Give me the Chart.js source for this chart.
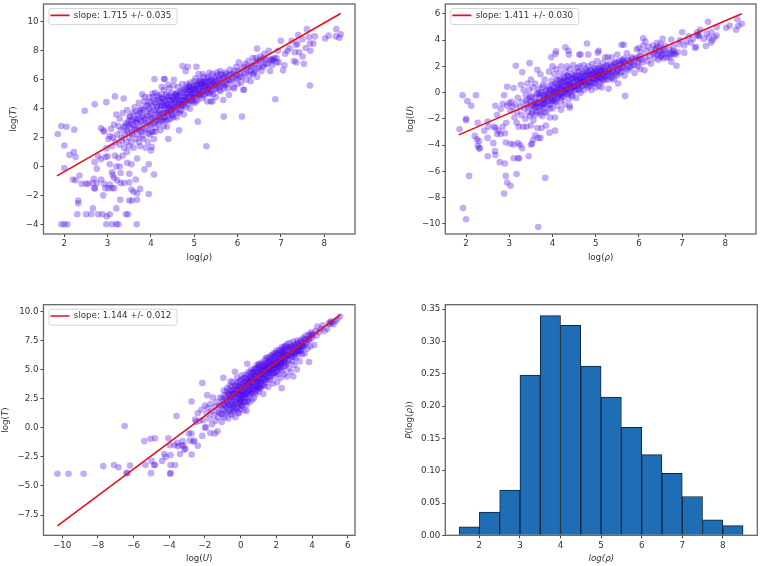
<!DOCTYPE html>
<html>
<head>
<meta charset="utf-8">
<title>log rho, T and U</title>
<script src="https://cdn.jsdelivr.net/npm/chart.js@4"></script>
<style>
html, body { margin: 0; padding: 0; background: #fff; }
#wrap { position: relative; width: 760px; height: 566px; overflow: hidden; }
canvas { position: absolute; filter: blur(0.4px); }
</style>
</head>
<body>
<div id="wrap">
<canvas id="c1" width="380" height="283" style="left:0;top:0"></canvas>
<canvas id="c2" width="380" height="283" style="left:380px;top:0"></canvas>
<canvas id="c3" width="380" height="283" style="left:0;top:283px"></canvas>
<canvas id="c4" width="380" height="283" style="left:380px;top:283px"></canvas>
</div>
<script>
'use strict';
// points, [x, y]
const rhoT = [
[1.93,-4],[2,-4],[2.07,-4],[2.97,-4],[3.1,-4],[3.2,-4],[3.25,-4],[3.67,-4],
[2.3,-3.3],[2.5,-3.3],[2.62,-3.3],[2.78,-3.3],[2.88,-3.3],[2.98,-3.45],[3.05,-3.3],[3.42,-3.3],[3.47,-3.3],
[2.66,-2.9],[3.2,-2.9],[2.32,-2.35],[2.32,-2.55],[3.29,-2.3],[3.5,-2.35],[3.56,-2.35],[3.68,-2.3],
[2.9,-2],[3.95,-1.9],[3.6,-1.75],[3.68,-1.85],[3.75,-1.55],[2.7,-1.5],[2.7,-1.52],[2.95,-1.5],[3.02,-1.5],[3.1,-1.5],[3.15,-1.5],[3.55,-1.6],
[2.4,-1.2],[2.5,-1.2],[2.55,-1.2],[2.65,-1.15],[2.75,-1.15],[2.92,-1.2],[3.05,-1.25],[3.3,-1.15],[3.38,-1.15],[3.5,-1.1],
[2.2,-0.9],[2.26,-0.95],[2.68,-0.85],[2.85,-0.9],[3.15,-0.8],[3.22,-0.95],[3.65,-0.9],[2.35,-0.62],[3.1,-0.4],[3.12,-0.6],[3.3,-0.45],[3.5,-0.5],[4.07,-0.55],
[2,-0.1],[2.75,-0.15],[3.2,0],[3.28,0],[3.05,0.15],[3.85,-0.2],[3.95,0.15],[3.45,0.25],[3.55,0.15],
[2.12,0.8],[2.22,1],[2.26,0.65],[2.7,0.3],[2.78,0.7],[2.85,0.5],[2.95,0.65],[3,0.7],[3.17,0.75],[3.25,0.6],[3.35,0.75],[3.45,1],[3.68,0.55],
[2,1.45],[2.97,1.25],[1.85,2.25],[1.93,2.8],[2.05,2.75],[2.23,2.55],[2.85,2.65],[2.9,2.5],[2.92,2.4],[2.47,3.85],[2.7,4.3],[2.97,4.45],[3.17,4.85],[3.37,4.7],
[3.02,1.9],[3.05,2.1],[3.08,2.6],[3.1,1.4],[3.12,2],[3.15,2.9],[3.18,1.7],[3.2,3.6],[3.22,2.2],[3.25,2.8],[3.27,1.5],[3.28,3.3],[3.3,2.5],[3.32,2],[3.33,1.8],[3.35,3.7],[3.37,2.7],[3.38,1.3],[3.4,2.2],[3.42,3],[3.43,1.7],[3.45,3.9],[3.46,2.4],[3.48,2.9],[3.5,1.4],[3.5,3.4],[3.5,2],
[3.52,2.7],[3.54,3.2],[3.55,1.7],[3.56,2.3],[3.58,3.7],[3.6,2.9],[3.6,1.3],[3.62,4.1],[3.63,2.5],[3.65,3.3],[3.66,1.9],[3.68,3],[3.7,3.6],[3.7,2.2],[3.72,4.4],[3.74,2.7],[3.75,1.4],[3.76,3.2],[3.78,4],[3.78,2.4],[3.8,3.5],[3.8,5],[3.82,1.9],[3.83,2.9],[3.85,4.5],[3.86,3.3],[3.88,1.3],[3.9,3.8],[3.9,2.6],[3.92,4.2],[3.93,1.7],[3.94,3.1],[3.96,4.8],[3.97,2.2],[3.98,3.6],[4,1.1],[4,2.9],[4,4.4],[4.02,1.35],[4.03,3.3],[4.04,5.05],[4.05,2.4],[4.06,3.9],[4.07,1.9],[4.08,4.6],[4.1,3.1],[4.1,5.1],[4.12,2.7],[4.13,3.6],[4.14,4.2],[4.15,4.9],
[4.17,2.9],[4.18,3.4],[4.2,4.5],[4.2,3.9],[4.22,2.5],[4.23,5],[4.25,3.2],[4.26,4.2],[4.27,3.7],[4.28,4.7],[4.3,2.8],[4.3,5.3],[4.32,4],[4.33,3.4],[4.34,4.5],[4.35,5],[4.36,3.8],[4.37,2.75],[4.38,4.3],[4.4,1.9],[4.4,3.6],[4.4,4.8],[4.42,5.4],[4.43,4.1],[4.45,3.3],[4.46,4.6],[4.47,3.9],[4.48,5.1],[4.5,4.3],[4.5,3.5],[4.52,5.6],[4.53,4.7],[4.55,3.9],[4.56,4.4],[4.58,5],[4.6,4.2],[4.6,3.4],[4.62,4.8],[4.63,5.5],[4.65,2.5],[4.65,4.4],[4.67,3.8],[4.68,5.2],[4.7,4.6],[4.72,5.7],[4.73,4.2],[4.75,4.9],[4.76,3.6],[4.78,5.3],[4.8,4.5],[4.82,5],[4.83,5.7],[4.85,4.3],[4.87,5.5],[4.88,4.8],[4.9,5.2],[4.9,4],[4.92,5.8],[4.94,4.6],[4.95,5.4],[4.97,5],[5,4.4],[5,5.6],[5.02,4.8],[5.03,6.1],[5.05,5.3],[5.07,4.6],[5.08,3.1],[5.1,5.7],[5.1,5],[5.12,4.9],[5.14,6],[5.15,5.4],[5.17,5.9],[5.18,4.7],[5.2,5.2],[5.22,6.2],[5.23,5.6],[5.25,5],[5.28,1.4],[5.28,5.8],[5.3,4.5],[5.3,6.1],[5.32,5.4],[5.35,5.9],[5.37,5],[5.38,4.5],[5.4,5.6],[5.42,6.4],[5.45,5.3],[5.47,6],[5.5,4.8],[5.5,5.7],[5.52,6.5],[5.55,5.5],[5.57,6.1],[5.6,5.2],[5.6,6.6],[5.63,5.8],[5.65,6.3],[5.67,4.6],[5.68,3.45],[5.7,5.6],[5.72,6.5],[5.75,6],[5.78,5.4],[5.8,6.3],[5.82,6.7],[5.85,5.9],[5.9,6.4],[5.92,5.4],[5.95,6.1],[5.97,6.9],[6,5.7],[6,6.6],[6.03,7.2],[6.05,6.2],[6.08,5.8],[6.1,3.45],[6.1,6.8],[6.13,5.3],[6.15,6.4],[6.18,7.1],[6.2,6],[6.22,6.7],[6.25,7.3],[6.28,6.3],[6.3,5.9],[6.32,6.9],[6.35,7.5],[6.38,6.5],[6.4,7.1],[6.42,7.5],[6.45,6.2],[6.45,8.15],[6.47,6.8],[6.5,7.3],[6.52,7.6],[6.55,6.6],[6.58,7],[6.6,7.5],[6.62,7.8],[6.65,7.1],[6.72,8],[6.75,6.6],[6.78,7.4],[6.8,7],[6.83,7.4],[6.87,4.65],[6.9,7.5],[6.93,8],[6.95,7.2],[7,8.7],[7.05,6.65],[7.08,7],[7.1,7.8],[7.15,8],[7.2,8.2],[7.25,8.7],[7.3,7.3],[7.32,7.9],[7.35,7.2],[7.35,8.4],[7.38,8.5],[7.4,9.1],[7.42,7.9],[7.5,8.8],[7.5,7.6],[7.53,7.1],[7.57,8.2],[7.6,9.5],[7.65,8.95],[7.67,8.5],[7.67,5.6],[7.68,8],[7.75,8.5],[7.78,9],[8.02,8.85],[8.1,9.05],[8.27,9],[8.28,9.5],[8.35,8.9],[8.38,9.15],
[4.85,6.9],[5.05,6.9],[4.73,6.95],[4.8,6.6],[5.1,6.4],[5.2,6.4],[4.08,6.05],[4.3,6.05],[4.32,6.05],[4.53,6],[4.4,5.65],[4.25,5.5],[5.35,6.5],[5.42,4.5],[5.8,4.95],[5.9,5.5],[6.15,5.3],[6.35,6.4]
];
// the crowded middle of the same panel
const rhoTCore = [
[3.4,2.8],[3.45,2.5],[3.48,3.1],[3.52,3.5],[3.55,2.9],[3.57,2.2],[3.6,3.3],[3.62,2.6],[3.64,3.8],[3.66,3.1],[3.68,2.6],[3.7,3.3],[3.72,1.7],[3.74,3.7],[3.76,2.5],[3.78,3.1],[3.8,2.1],[3.82,3.9],[3.84,3.4],[3.86,2.5],[3.88,4.2],[3.9,3],[3.92,3.5],[3.94,2.3],[3.96,4],[3.98,2.8],[4,3.4],[4,3.8],[4.02,2.4],[4.04,4.2],[4.06,3],[4.08,3.4],[4.1,4.4],[4.1,2.4],[4.12,3.8],[4.14,3.2],[4.16,4.6],[4.18,3.7],[4.2,3.1],[4.22,4.2],[4.24,3.6],[4.26,4.7],[4.28,3.2],[4.3,4.2],[4.3,3.7],[4.32,4.6],[4.34,3.2],[4.36,4.9],[4.38,3.7],[4.4,4.3],[4.4,3.2],[4.42,4.6],[4.44,3.8],[4.46,4.2],[4.48,3.6],[4.5,4.8],[4.5,4],[4.52,3.4],[4.54,4.5],[4.56,5],[4.58,3.8],[4.6,4.6],[4.6,5.1],[4.62,4.2],[4.64,3.7],[4.66,4.9],[4.68,4.3],[4.7,5.1],[4.7,3.9],[4.72,4.5],[4.74,5.3],[4.76,4.3],[4.78,4.8],[4.8,5.4],[4.8,4.1],[4.82,4.6],[4.84,5.1],[4.86,4.6],[4.88,5.6],[4.9,4.5],[4.9,5],[4.92,5.3],[4.94,5],[4.96,4.5],[4.98,5.4],[5,5],[5,5.9],[5.02,5.3],[5.04,4.5],[5.06,5.7],[5.08,5],[5.1,5.4],[5.12,5.9],[5.14,5],[5.16,5.6],[5.18,5.2],[5.2,5.8],[5.22,4.9],[5.24,5.4],[5.26,5.8],[5.28,5.1],[5.3,5.6],[5.32,6.2],[5.34,5.1],[5.36,5.6],[5.38,6],[5.4,5.2],[5.42,5.8],[5.44,5],[5.46,5.6],[5.48,6.2],[5.5,5.4],[5.52,5.9],[5.54,6.3],[5.56,5.7],[5.58,5.3],[5.6,6],[5.62,6.4],[5.64,5.6],[5.66,6.1],[5.68,5.4],[5.7,6.2],[5.72,5.8],[5.74,6.4],[5.76,5.7],[5.8,6],[5.84,6.4],[5.88,6],[5.92,6.6],[5.96,6.3],[6,6.1],[6.05,6.5],[6.1,6.2],[6.15,6.9],[6.2,6.5],[6.25,6.9],[6.3,6.6],[6.35,7],[6.4,6.6],[6.45,7.3],[6.5,6.9],[6.55,7.4],[6.6,6.9],[6.65,7.4],[6.7,7.1],[6.75,7.4],[6.8,7.3],[6.85,7.5],[6.9,7.2],
[3.75,3.9],[3.85,4.8],[3.95,4.5],[4.05,4.8],[4.15,4.1],[4.2,4.8],[4.25,4.4],[4.3,3.4],[4.35,4.2],[4.4,4],[4.45,4.9],[4.5,4.6],[4.55,4.1],[4.6,4.9],[4.65,4.6],[4.7,4.2],[4.75,4.6],[4.8,4.8],[4.85,5.3],[4.9,5.5],[4.95,4.8],[5,5.3],[5.05,5.6],[5.1,5.2],[5.15,5.7],[5.2,5.5],[5.25,5.9],[5.3,5.3],[5.35,5.4],[5.4,6],[5.45,5.8]
];
const rhoU = [
[3.67,-10.25],[1.93,-8.8],[2,-9.65],[2.88,-7.7],[3.03,-7.1],[2.95,-6.85],[2.92,-6.35],[2.07,-6.35],[3.17,-6.2],[3.83,-6.5],[2.9,-5.4],[2.78,-5.3],[2.5,-4.85],[2.68,-4.75],[2.67,-4.45],[3.1,-5],[3.2,-5],[3.23,-5],[3.45,-4.85],[2.63,-3.85],[2.5,-3.45],[2.2,-3.3],[2.25,-3.55],[2.3,-3.7],[2.27,-4.05],[2.32,-4.25],[2.3,-4.25],[2.92,-3.8],[3.03,-3.9],[3.1,-3.95],[3.2,-3.85],[3.25,-4],[3.3,-4.25],[3.5,-3.95],[3.53,-3.9],[3.55,-3.6],[3.6,-3.25],[3.67,-3.45],[3.72,-3.45],[1.85,-2.8],[2.27,-2.3],[2.42,-2.9],[2.5,-2.2],[2.52,-2.6],[2.65,-2.6],[2.68,-2.7],[2.75,-2.9],[2.8,-3.15],[2.72,-3.15],[2.85,-2.6],[2.9,-3.1],[2.93,-2.3],[1.92,-0.2],[2.23,-0.2],[2.03,-0.65],[2.12,-1],[2,-2],[2,-2.1],[2.68,-1],[2.72,-1.7],[2.8,-1.25],[2.85,-0.85],[2.88,-0.2],[2.95,0.45],[2.95,-1],[3.15,2.05],[3.3,1.55],[3.47,2.25],[3.65,1.75],[3.97,2.7],[4.07,2.95],[4.08,3.15],[4.3,3.45],[4.37,3.2],[4.38,2.9],[4.8,3.75],[4.65,2.9],[4.62,2.9],[4.83,2.9],[5.05,3.05],[5.07,3.2],[3.85,-2.5],[3.93,-3.05],[4.06,-2.9],[3.75,-2.7],[4.2,-1.3],[4.4,-1],[4.4,-1.15],[5.68,-0.25],[6.87,2.05],
[7,4.6],[7.6,5.4],[7.35,4.6],[7.8,5],[8.28,5.6],[8.38,5.25],[8.3,5.1],[8.25,4.8],[8.1,5.1],[8.02,4.95],[7.8,4.35],[7.7,4],[7.67,3.8],[7.55,3.55],[7.4,4.3],[7.3,3.4],[7.05,3.05],[6.75,4.05],[6.95,4],[6.75,2.35],[6.1,4.15],[6.15,3.9],[5.6,3.65],[5.65,3.65],[6.55,4.1],
[3,-0.8],[3.03,-1.4],[3.05,-0.7],[3.08,-1.1],[3.1,0.35],[3.12,-1.9],[3.15,-0.9],[3.17,-2.3],[3.18,-1.5],[3.2,-0.4],[3.22,-2.6],[3.25,-1.1],[3.27,0.6],[3.28,-1.7],[3.3,-0.7],[3.32,-2.6],[3.33,0.2],[3.35,-1.2],[3.37,-2],[3.38,-0.2],[3.4,-2.6],[3.4,-0.9],[3.42,0.7],[3.43,-1.5],[3.45,-0.5],[3.46,0.2],[3.48,-1.8],[3.5,-1],[3.5,1],[3.5,-2.5],[3.52,-0.3],[3.54,-1.4],[3.55,0.4],[3.56,-2.1],[3.58,-0.7],[3.6,-1.7],[3.6,0.7],[3.62,-1.1],[3.63,-0.1],[3.65,-2.7],[3.66,-0.8],[3.68,0.3],[3.7,-1.4],[3.7,-0.4],[3.72,1.4],[3.74,-0.9],[3.75,0],[3.76,-1.8],[3.78,0.6],[3.78,-0.6],[3.8,-1.2],[3.8,-0.2],[3.82,1],[3.83,-0.8],[3.85,0.2],[3.86,-1.5],[3.88,-0.4],[3.9,0.5],[3.9,-1],[3.92,1.6],[3.93,-0.1],[3.94,-1.9],[3.96,0.2],[3.97,-0.6],[3.98,0.9],[4,-1.2],[4,-0.2],[4,2],[4.02,-0.7],[4.03,0.4],[4.04,1.4],[4.05,-0.3],[4.06,-1.9],[4.07,0.1],[4.08,1.8],[4.1,-0.5],[4.1,0.6],[4.12,-1],[4.13,0.2],[4.14,1],[4.15,-0.2],[4.17,1.5],[4.18,0.4],[4.2,-0.6],[4.2,2],[4.22,0],[4.23,0.8],[4.25,-0.3],[4.26,1.2],[4.27,0.3],[4.28,-0.9],[4.3,1.6],[4.3,0.5],[4.32,-0.1],[4.33,0.9],[4.34,2],[4.35,0.2],[4.36,1.3],[4.37,-0.5],[4.38,0.6],[4.4,1.8],[4.4,0],[4.42,1],[4.43,0.4],[4.45,1.4],[4.46,-0.3],[4.47,0.7],[4.48,2.1],[4.5,1.1],[4.5,0.1],[4.52,1.6],[4.53,0.5],[4.55,-0.4],[4.56,0.9],[4.58,1.9],[4.6,0.3],[4.6,1.3],[4.62,0.7],[4.63,2],[4.65,0],[4.65,1.1],[4.67,0.5],[4.68,1.6],[4.7,0.9],[4.72,2.1],[4.73,0.2],[4.75,1.3],[4.76,0.6],[4.78,1.8],[4.8,1],[4.82,0.4],[4.83,2],[4.85,1.4],[4.87,0.7],[4.88,1.7],[4.9,1.1],[4.9,0.2],[4.92,2.2],[4.94,1.4],[4.95,0.7],[4.97,1.9],[5,1.1],[5,0.4],[5.02,1.6],[5.03,2.4],[5.05,0.9],[5.07,1.4],[5.08,0.5],[5.1,2],[5.1,1.1],[5.12,1.7],[5.14,0.4],[5.15,1.3],[5.17,2.3],[5.18,0.9],[5.2,1.6],[5.22,2.7],[5.23,1],[5.25,2],[5.28,1.3],[5.28,2.7],[5.3,0.3],[5.3,1.7],[5.32,2.2],[5.35,1.2],[5.37,2.7],[5.38,1.6],[5.4,2],[5.42,1],[5.45,2.3],[5.47,1.4],[5.5,1.8],[5.5,2.9],[5.52,0.7],[5.55,2.1],[5.57,1.5],[5.6,2.4],[5.63,1.9],[5.65,2.6],[5.67,1.3],[5.7,2.2],[5.72,3],[5.75,1.7],[5.78,2.4],[5.8,1.9],[5.82,2.7],[5.85,2.1],[5.9,1.5],[5.92,2.5],[5.95,3.3],[5.97,2],[6,3.4],[6,2.6],[6.03,1.8],[6.05,3.1],[6.08,2.3],[6.1,3.6],[6.13,1.7],[6.15,2.7],[6.18,3.2],[6.2,2.4],[6.22,3.5],[6.25,2.8],[6.28,2.2],[6.3,3.1],[6.32,3.6],[6.35,2.6],[6.38,3.3],[6.4,2.9],[6.42,3.8],[6.45,2.5],[6.47,3.2],[6.5,3.7],[6.52,2.8],[6.55,3.3],[6.58,2.6],[6.6,3.6],[6.62,3],[6.65,2.7],[6.7,3.3],[6.72,2.7],[6.78,2.95],[6.8,3.5],[6.83,3],[6.9,3.1],[6.93,3.7],[7.05,3.6],[7.1,3.9],[7.15,4.3],[7.2,3.8],[7.25,4.1],[7.32,3.5],[7.35,4.4],[7.38,4.35],[7.42,4.8],[7.5,4.1],[7.57,4.5],[7.62,4.2],[7.68,4.6],[7.75,4.2]
];
const rhoUCore = [
[3.4,-0.6],[3.44,-1.1],[3.48,-0.3],[3.52,-1.6],[3.55,-0.9],[3.58,-1.2],[3.6,-0.4],[3.62,-0.8],[3.64,-1.5],[3.66,0],[3.68,-1.1],[3.7,-0.7],[3.72,-1.6],[3.74,-0.2],[3.76,0.4],[3.78,-0.9],[3.8,-0.5],[3.82,-1.5],[3.84,0.1],[3.86,-0.7],[3.88,-0.1],[3.9,-0.6],[3.92,0.3],[3.94,-1.2],[3.96,-0.4],[3.98,0.2],[4,-0.6],[4,0.6],[4.02,-0.2],[4.04,0],[4.06,0.7],[4.08,-0.7],[4.1,0.2],[4.1,1],[4.12,-0.3],[4.14,0.4],[4.16,-0.1],[4.18,1],[4.2,0.3],[4.2,0.7],[4.22,-0.4],[4.24,0.5],[4.26,0.1],[4.28,1.1],[4.3,0],[4.3,0.8],[4.32,0.3],[4.34,1.3],[4.36,-0.1],[4.38,0.9],[4.4,0.3],[4.4,1.2],[4.42,0.6],[4.44,-0.2],[4.46,1.1],[4.48,0.4],[4.5,0.8],[4.52,1.3],[4.54,0.2],[4.56,1],[4.58,0.5],[4.6,1.6],[4.6,0.9],[4.62,0.2],[4.64,1.2],[4.66,0.8],[4.68,1.4],[4.7,0.5],[4.72,1],[4.74,1.6],[4.76,0.9],[4.78,1.3],[4.8,0.6],[4.82,1.6],[4.84,1.1],[4.86,0.5],[4.88,1.3],[4.9,1.7],[4.92,0.8],[4.94,1.1],[4.96,1.5],[4.98,0.7],[5,1.4],[5,1.8],[5.02,1],[5.04,1.3],[5.06,1.9],[5.08,1.2],[5.1,0.8],[5.12,1.5],[5.14,1.9],[5.16,1],[5.18,1.4],[5.2,1.9],[5.22,1.2],[5.24,1.6],[5.26,2.1],[5.28,1.5],[5.3,1],[5.32,1.8],[5.34,1.4],[5.36,2],[5.38,1.1],[5.4,1.6],[5.42,2.2],[5.44,1.5],[5.46,1.9],[5.48,2.3],[5.5,1.3],[5.52,1.7],[5.54,2.4],[5.56,1.9],[5.58,2.2],[5.6,1.6],[5.62,2.5],[5.64,2],[5.66,2.3],[5.7,1.8],[5.74,2.5],[5.78,2],[5.82,2.3],[5.86,2.6],[5.9,2.1],[5.94,2.7],[5.98,2.3],[6.02,2.8],[6.06,2.5],[6.45,2.9],[6.5,3.2],[6.55,2.9],[6.6,3.2],[6.5,2.7],[6.45,3.5],[6.4,3.4],[6.35,3],[6.7,2.9],[6.75,3.1],[6.8,3.2],[6.85,2.9],
[3.5,-0.7],[3.6,-1],[3.7,-0.1],[3.75,-1.1],[3.8,-0.8],[3.85,-0.3],[3.9,-0.2],[3.95,-0.9],[4,0.1],[4.05,-0.6],[4.1,0],[4.15,0.6],[4.2,-0.2],[4.25,0.9],[4.3,0.2],[4.35,0.6],[4.4,0.7],[4.45,0.2],[4.5,0.5],[4.55,1.2],[4.6,0.6],[4.65,0.8],[4.7,1.2],[4.75,0.8],[4.8,1.4],[4.85,0.8],[4.9,1.4],[4.95,1],[5,1.6],[5.05,1.2],[5.1,1.5],[5.15,1.7],[5.2,1.3]
];
const uT = [
[-10.27,-3.95],[-9.65,-3.95],[-8.8,-3.95],[-7.7,-3.3],[-7.1,-3.2],[-6.85,-3.4],[-6.35,-3.9],[-6.4,-3.9],[-6.2,-3.25],[-6.5,0.15],[-5.4,-1.15],[-5.05,-0.95],[-4.8,-0.9],[-5.33,-3.2],[-5.03,-3.9],[-5,-2.85],[-4.8,-3.2],[-4.85,-3.2],[-4.4,-2.85],[-4.2,-2.5],[-4.28,-2.25],[-3.93,-2.35],[-3.93,-3.9],[-3.95,-3.95],[-3.93,-3.2],[-3.68,-3.2],[-3.6,1],[-4.05,-0.9],[-3.97,-1.5],[-3.7,-1.5],[-3.5,-1.6],[-3.25,-1.15],[-3.4,-2.25],[-3.1,-1.8],[-3.15,-1.9],[-2.75,-2.3],[-3.2,-1.55],[-2.9,-0.5],[-2.75,-0.5],[-2.85,-1.1],[-2.65,-1.2],[-2.6,-1.1],[-2.4,-1.55],[-2.75,2.25],[-2.15,3.85],[-1.87,2.8],[-2.55,0.7],[-2.4,1.25],[-2.2,1.55],[-2.15,-0.7],[-2,0],[-1.95,0.05],[-1.7,-0.45],[-1.45,-0.5],[-1.3,-0.3],[-3.55,-1.3],[-3.3,-1.5],
[-2.5,0.5],[-2.3,0.6],[-2.1,0.65],[-2,1.9],[-1.9,1.2],[-1.85,1.7],[-1.75,0.8],[-1.7,2.05],[-1.65,1.4],[-1.6,0.3],[-1.55,2.6],[-1.5,1.1],[-1.45,1.8],[-1.4,0.6],[-1.35,2.2],[-1.3,1.4],[-1.25,0.9],[-1.2,1.9],[-1.15,2.6],[-1.1,1.2],[-1.05,0.5],[-1,2.3],[-1,1.6],[-0.95,3.2],[-0.97,4.3],[-0.9,0.9],[-0.9,2.8],[-0.85,1.9],[-0.8,2.4],[-0.8,1.3],[-0.75,3.4],[-0.7,2],[-0.7,0.8],[-0.65,2.9],[-0.6,1.6],[-0.6,3.6],[-0.56,4],[-0.55,2.4],[-0.5,1.1],[-0.5,3],[-0.45,1.9],[-0.45,3.9],[-0.4,2.6],[-0.4,1.4],[-0.35,3.3],[-0.32,4.8],[-0.3,2.1],[-0.3,0.9],[-0.25,2.9],[-0.25,3.7],[-0.2,1.7],[-0.2,4.3],[-0.15,2.4],[-0.13,1.3],[-0.1,1.25],[-0.1,3.3],[-0.05,2],[-0.05,4],[0,2.8],[0,1.6],[0,3.5],[0.05,4.5],[0.05,2.3],[0.1,3.1],[0.1,1.9],[0.15,3.8],[0.15,2.6],[0.2,1.5],[0.2,4.3],[0.25,3.3],[0.25,2.2],[0.3,2.9],[0.3,4.6],[0.33,1.95],[0.33,1.45],[0.35,3.7],[0.37,5.5],[0.4,2.5],[0.4,4.1],[0.45,3.1],[0.45,4.8],[0.5,2.2],[0.5,3.6],[0.55,4.4],[0.55,2.9],[0.6,5],[0.6,3.3],[0.65,2.4],[0.65,3.9],[0.7,4.7],[0.7,3],[0.75,2.55],[0.75,4.2],[0.8,3.5],[0.8,5.1],[0.85,2.9],[0.85,4.5],[0.9,3.9],[0.9,5.4],[0.95,3.3],[0.95,4.8],[1,4.2],[1,3.1],[1,5.2],[1.05,3.7],[1.05,5.5],[1.1,4.5],[1.1,3.4],[1.15,5],[1.15,4],[1.2,5.6],[1.2,3.6],[1.25,4.5],[1.27,2.9],[1.3,5.3],[1.3,4.1],[1.35,5.8],[1.35,3.6],[1.4,4.8],[1.4,3.9],[1.45,5.5],[1.5,4.4],[1.5,6],[1.55,5.1],[1.55,3.5],[1.6,4.7],[1.6,5.7],[1.65,4.1],[1.7,5.3],[1.7,6.2],[1.75,4.6],[1.75,5.8],[1.8,3.8],[1.8,5],[1.85,6.4],[1.9,4.4],[1.9,5.5],[1.95,6],[2,4.8],[2,6.6],[2.05,3.9],[2.05,5.3],[2.1,5.9],[2.1,4.6],[2.15,6.7],[2.2,5.1],[2.2,6.2],[2.25,4.3],[2.25,5.6],[2.3,3.4],[2.3,6.9],[2.35,4.9],[2.35,6.4],[2.4,5.8],[2.45,4.6],[2.45,7],[2.5,5.3],[2.5,6.6],[2.55,6.1],[2.6,4.4],[2.6,7.2],[2.65,5.6],[2.7,6.7],[2.7,5.1],[2.75,7.3],[2.8,6.2],[2.8,4.8],[2.85,7],[2.9,5.7],[2.95,4.4],[2.95,7.4],[3,6.5],[3,5.4],[3.05,7.1],[3.1,6],[3.15,7.5],[3.15,5],[3.2,6.6],[3.25,7.2],[3.3,5.7],[3.35,7.5],[3.4,6.9],[3.45,6.3],[3.5,7.7],[3.55,7],[3.6,6.4],[3.65,7.9],[3.7,7.3],[3.75,6.8],[3.8,8],[3.83,5.65],[3.85,7.6],[3.9,7],[3.95,8.2],[4,7.7],[4.05,8],[4.13,7.1],[4.2,8.3],[4.25,7.9],[4.3,8.7],[4.4,8.2],[4.5,8.5],[4.6,8.8],[4.7,8.3],[4.85,8.5],[4.95,9],[5,8.9],[5.05,9.15],[5.1,9.05],[5.2,8.9],[5.3,9.15],[5.4,9.3],[5.57,9.55]
];
const uTCore = [
[-1.2,1.3],[-1.1,1.9],[-1.05,2.5],[-1,1.1],[-0.95,2],[-0.9,1.5],[-0.85,2.6],[-0.8,1.8],[-0.78,3.1],[-0.75,2.2],[-0.7,1.4],[-0.7,2.9],[-0.65,2.4],[-0.62,1.9],[-0.6,3.2],[-0.58,1.2],[-0.55,2.8],[-0.5,2.1],[-0.5,3.5],[-0.47,1.6],[-0.45,2.6],[-0.42,3.2],[-0.4,2],[-0.38,1.7],[-0.35,2.9],[-0.32,2.3],[-0.3,3.6],[-0.28,1.5],[-0.25,2.6],[-0.22,3.2],[-0.2,2.1],[-0.18,3.9],[-0.15,2.9],[-0.12,1.8],[-0.1,2.5],[-0.08,3.6],[-0.05,3],[-0.02,2.2],[0,3.2],[0,4.1],[0.03,2.5],[0.05,1.9],[0.08,3.5],[0.1,2.8],[0.12,4.2],[0.15,3.2],[0.18,2.2],[0.2,3.6],[0.22,2.9],[0.25,4],[0.28,2.6],[0.3,3.4],[0.32,4.3],[0.35,3],[0.38,2.3],[0.4,3.6],[0.42,4.5],[0.45,3.9],[0.48,2.8],[0.5,4.2],[0.52,3.3],[0.55,3.8],[0.58,4.7],[0.6,3],[0.62,4.3],[0.65,3.5],[0.68,4.8],[0.7,3.9],[0.72,3.3],[0.75,4.5],[0.78,5],[0.8,4],[0.82,3.1],[0.85,4.8],[0.88,3.6],[0.9,4.3],[0.92,5.1],[0.95,4],[0.98,3.5],[1,4.7],[1.02,5.4],[1.05,4.2],[1.08,3.4],[1.1,5],[1.12,3.9],[1.15,4.6],[1.18,5.3],[1.2,4.2],[1.22,4.9],[1.25,3.7],[1.28,5.5],[1.3,4.6],[1.32,5],[1.35,4.2],[1.38,5.4],[1.4,4.5],[1.42,6],[1.45,5],[1.48,4.1],[1.5,5.3],[1.52,4.7],[1.55,5.7],[1.58,4.3],[1.6,5.2],[1.62,6],[1.65,4.9],[1.68,5.6],[1.7,4.4],[1.72,5.1],[1.75,6.2],[1.78,5.4],[1.8,4.7],[1.82,5.9],[1.85,5.2],[1.88,6.1],[1.9,4.7],[1.92,5.6],[1.95,6.4],[1.98,5.1],[2,5.8],[2.02,6.3],[2.05,4.8],[2.08,5.6],[2.1,6.4],[2.12,5.2],[2.15,6],[2.18,5.5],[2.2,6.6],[2.22,5.7],[2.25,6.3],[2.28,5.1],[2.3,6],[2.32,6.6],[2.35,5.6],[2.38,6.2],[2.4,6.8],[2.42,5.3],[2.45,5.9],[2.48,6.5],[2.5,6],[2.52,7],[2.55,5.5],[2.58,6.4],[2.6,6.9],[2.65,6.2],[2.7,6.2],[2.75,6.8],[2.8,6.6],[2.85,6.1],[2.9,6.9],[2.95,6.3],[3,7.1],[3.05,6.4],[3.1,6.9],[3.15,6.5],[3.2,7.3],[3.25,6.6],[3.3,7],[3.35,6.7],[3.4,7.4],[3.45,7],[3.5,7.3],[3.55,7.6],[3.6,7.2],[3.7,7.6],[3.8,7.5],[3.9,7.9],[4,8],
[-0.6,2.6],[-0.4,3],[-0.2,3.5],[-0.1,2.9],[0,2.4],[0.1,3.7],[0.2,2.8],[0.3,3.9],[0.4,3.2],[0.5,3.9],[0.6,4.2],[0.7,3.5],[0.8,4.5],[0.9,3.5],[1,4],[1.1,4.7],[1.2,5],[1.3,4.4],[1.4,5.1],[1.5,4.9],[1.6,5.5],[1.7,4.9],[1.8,5.5],[1.9,5.1],[2,5.4],[2.1,5.2],[2.2,5.7],[2.3,5.5],[2.4,6.4],[2.5,5.7],[2.6,6.2],[2.7,5.8],[2.8,6.9],[2.9,6.4],[3,6.1],[3.1,6.6],[3.2,7],[3.3,6.4],[3.4,6.6],[3.5,7]
];
const histCenters = [1.75, 2.25, 2.75, 3.25, 3.75, 4.25, 4.75, 5.25, 5.75, 6.25, 6.75, 7.25, 7.75, 8.25];
const histValues = [0.013, 0.036, 0.07, 0.248, 0.34, 0.325, 0.262, 0.214, 0.167, 0.125, 0.096, 0.06, 0.024, 0.015];

const fitRhoT = [[1.83,-0.65],[8.38,10.58]];
const fitRhoU = [[1.83,-3.22],[8.38,6.02]];
const fitUT = [[-10.27,-8.43],[5.6,9.72]];

const rhoTicks = [2, 3, 4, 5, 6, 7, 8];
const tTicks = [-4, -2, 0, 2, 4, 6, 8, 10];
const uTicks = [-10, -8, -6, -4, -2, 0, 2, 4, 6];
const tTicksWide = [-7.5, -5, -2.5, 0, 2.5, 5, 7.5, 10];
const probTicks = [0, 0.05, 0.1, 0.15, 0.2, 0.25, 0.3, 0.35];

const textColor = '#333';
const fontName = '"DejaVu Sans"';
const fontSize = 8.7;

function toPoints(list) {
    return list.map(p => ({ x: p[0], y: p[1] }));
}

function tickText(decimals) {
    return v => v.toFixed(decimals).replace('-', '\u2212');
}

// draws "log(rho)" style labels, some parts italic, so it needs more than a scale title
function drawLabel(ctx, parts, cx, cy, rotated) {
    ctx.save();
    ctx.fillStyle = textColor;
    ctx.textBaseline = 'middle';
    ctx.textAlign = 'left';
    let total = 0;
    parts.forEach(p => {
        ctx.font = (p[1] ? 'italic ' : '') + fontSize + 'px ' + fontName;
        total += ctx.measureText(p[0]).width;
    });
    ctx.translate(cx, cy);
    if (rotated) ctx.rotate(-Math.PI / 2);
    let pos = -total / 2;
    parts.forEach(p => {
        ctx.font = (p[1] ? 'italic ' : '') + fontSize + 'px ' + fontName;
        ctx.fillText(p[0], pos, 0);
        pos += ctx.measureText(p[0]).width;
    });
    ctx.restore();
}

const panelDecor = {
    id: 'panelDecor',
    beforeDraw(chart) {
        const o = chart.options.plugins.panelDecor;
        if (!o.legendBox) return;
        const ctx = chart.ctx, a = chart.chartArea;
        // chartArea legend keeps top at 0 otherwise
        chart.legend.top = a.top;
        chart.legend.bottom = a.bottom;
        ctx.save();
        ctx.fillStyle = 'rgba(255,255,255,0.8)';
        ctx.strokeStyle = '#d6d6d6';
        ctx.lineWidth = 1;
        ctx.beginPath();
        ctx.roundRect(a.left + 5.5, a.top + 4.5, o.legendBox, 16, 2);
        ctx.fill();
        ctx.stroke();
        ctx.restore();
    },
    afterDraw(chart) {
        const o = chart.options.plugins.panelDecor;
        const ctx = chart.ctx, a = chart.chartArea;
        ctx.save();
        ctx.strokeStyle = '#666';
        ctx.lineWidth = 1.3;
        ctx.strokeRect(a.left, a.top, a.right - a.left, a.bottom - a.top);
        ctx.restore();
        drawLabel(ctx, o.xLabel, (a.left + a.right) / 2, o.xLabelY, false);
        drawLabel(ctx, o.yLabel, o.yLabelX, (a.top + a.bottom) / 2, true);
    }
};

function axis(box, tickList, decimals, range) {
    return {
        type: 'linear',
        offset: false,
        min: range[0],
        max: range[1],
        afterBuildTicks: s => { s.ticks = tickList.map(v => ({ value: v })); },
        afterFit: s => {
            if (s.isHorizontal()) s.height = box.axisH; else s.width = box.axisW;
            s.paddingTop = 0;
            s.paddingBottom = 0;
            s.paddingLeft = 0;
            s.paddingRight = 0;
        },
        grid: { offset: false, drawOnChartArea: false, drawTicks: true, tickLength: 3, tickColor: '#444', tickWidth: 1 },
        border: { display: false },
        ticks: {
            color: textColor,
            padding: 2,
            maxRotation: 0,
            autoSkip: false,
            font: { family: fontName, size: fontSize },
            callback: tickText(decimals)
        }
    };
}

function scatterPanel(id, box, pts, fit, slopeText, xCfg, yCfg, xLabel, yLabel) {
    new Chart(document.getElementById(id), {
        type: 'scatter',
        data: {
            datasets: [
                { label: slopeText, data: toPoints(fit), showLine: true, borderColor: '#e4101c', borderWidth: 1.6, pointRadius: 0, pointStyle: 'line' },
                { label: 'points', data: toPoints(pts), backgroundColor: 'rgba(72,0,235,0.33)', borderWidth: 0, pointRadius: 3.3 }
            ]
        },
        plugins: [panelDecor],
        options: {
            responsive: false,
            animation: false,
            layout: { padding: { top: box.top, right: box.right, left: 0, bottom: 0 } },
            scales: { x: axis(box, xCfg.ticks, xCfg.decimals, xCfg.range), y: axis(box, yCfg.ticks, yCfg.decimals, yCfg.range) },
            plugins: {
                tooltip: { enabled: false },
                legend: {
                    position: 'chartArea',
                    align: 'start',
                    labels: {
                        filter: item => item.datasetIndex === 0,
                        usePointStyle: true,
                        pointStyleWidth: 19,
                        padding: 7,
                        color: textColor,
                        font: { family: fontName, size: fontSize }
                    }
                },
                panelDecor: { legendBox: 128, xLabel: xLabel, yLabel: yLabel, xLabelY: box.xLabelY, yLabelX: box.yLabelX }
            }
        }
    });
}

const rhoLabel = [['log(', 0], ['\u03c1', 1], [')', 0]];
const topLeft = { top: 3, right: 25, axisW: 43.5, axisH: 49, xLabelY: 257.5, yLabelX: 13.7 };
const topRight = { top: 3, right: 2.7, axisW: 65.3, axisH: 49, xLabelY: 257.5, yLabelX: 30.7 };
const botLeft = { top: 21.7, right: 25, axisW: 43.5, axisH: 30.7, xLabelY: 276, yLabelX: 6 };
const botRight = { top: 21.7, right: 2.7, axisW: 65.3, axisH: 30.7, xLabelY: 276, yLabelX: 30 };

scatterPanel('c1', topLeft, rhoT.concat(rhoTCore), fitRhoT, 'slope: 1.715 +/- 0.035',
    { ticks: rhoTicks, decimals: 0, range: [1.52, 8.71] },
    { ticks: tTicks, decimals: 0, range: [-4.67, 11.24] },
    rhoLabel, [['log(', 0], ['T', 1], [')', 0]]);

scatterPanel('c2', topRight, rhoU.concat(rhoUCore), fitRhoU, 'slope: 1.411 +/- 0.030',
    { ticks: rhoTicks, decimals: 0, range: [1.52, 8.71] },
    { ticks: uTicks, decimals: 0, range: [-10.78, 6.76] },
    rhoLabel, [['log(', 0], ['U', 1], [')', 0]]);

scatterPanel('c3', botLeft, uT.concat(uTCore), fitUT, 'slope: 1.144 +/- 0.012',
    { ticks: uTicks, decimals: 0, range: [-11.05, 6.41] },
    { ticks: tTicksWide, decimals: 1, range: [-9.24, 10.57] },
    [['log(', 0], ['U', 1], [')', 0]], [['log(', 0], ['T', 1], [')', 0]]);

new Chart(document.getElementById('c4'), {
    type: 'bar',
    data: {
        datasets: [{
            data: histCenters.map((c, i) => ({ x: c, y: histValues[i] })),
            backgroundColor: '#1f6db4',
            borderColor: '#10243a',
            borderWidth: 1,
            barPercentage: 1,
            categoryPercentage: 1
        }]
    },
    plugins: [panelDecor],
    options: {
        responsive: false,
        animation: false,
        layout: { padding: { top: botRight.top, right: botRight.right, left: 0, bottom: 0 } },
        scales: {
            x: axis(botRight, rhoTicks, 0, [1.16, 8.85]),
            y: axis(botRight, probTicks, 2, [0, 0.357])
        },
        plugins: {
            tooltip: { enabled: false },
            legend: { display: false },
            panelDecor: {
                legendBox: 0,
                xLabel: [['log(\u03c1)', 1]],
                yLabel: [['P', 1], ['(log(', 0], ['\u03c1', 1], ['))', 0]],
                xLabelY: botRight.xLabelY,
                yLabelX: botRight.yLabelX
            }
        }
    }
});
</script>
</body>
</html>
